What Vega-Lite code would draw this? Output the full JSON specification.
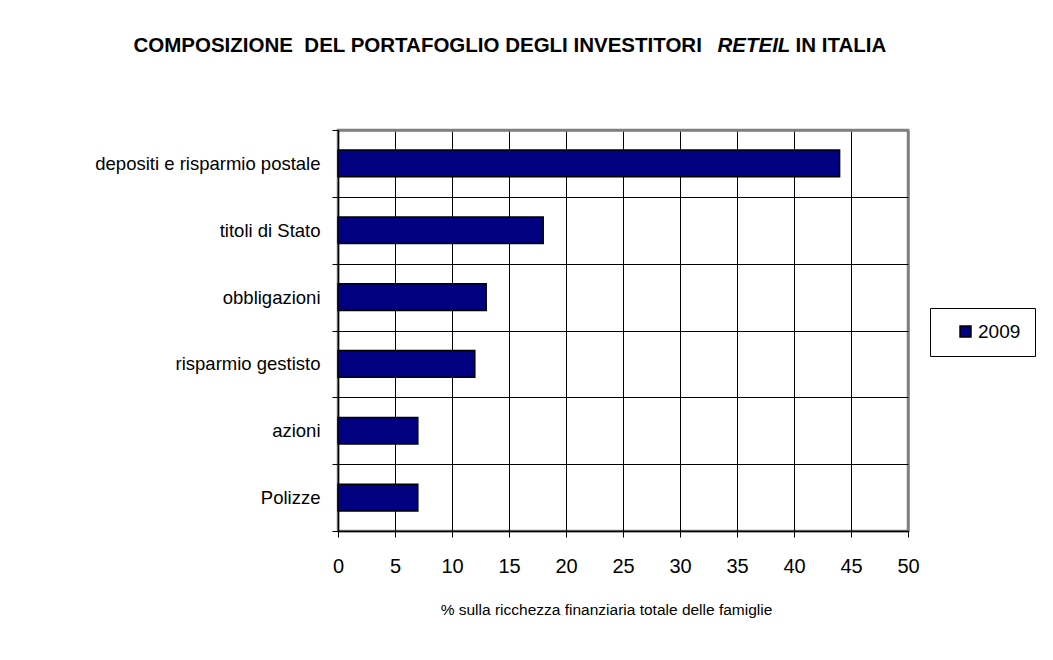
{
  "$schema": "https://vega.github.io/schema/vega-lite/v6.json",
  "width": 570,
  "height": 401,
  "autosize": {"type": "none"},
  "padding": {"left": 338, "top": 130, "right": 145, "bottom": 129},
  "background": "white",
  "data": {
    "values": [
      {"categoria": "depositi e risparmio postale", "valore": 44, "anno": "2009"},
      {"categoria": "titoli di Stato", "valore": 18, "anno": "2009"},
      {"categoria": "obbligazioni", "valore": 13, "anno": "2009"},
      {"categoria": "risparmio gestisto", "valore": 12, "anno": "2009"},
      {"categoria": "azioni", "valore": 7, "anno": "2009"},
      {"categoria": "Polizze", "valore": 7, "anno": "2009"}
    ]
  },
  "layer": [
    {
      "mark": {"type": "bar", "height": {"band": 0.4}, "stroke": "black", "strokeWidth": 1.5},
      "encoding": {
        "y": {
          "field": "categoria",
          "type": "nominal",
          "sort": null,
          "scale": {"paddingInner": 0, "paddingOuter": 0},
          "axis": {
            "orient": "left",
            "title": "COMPOSIZIONE\u00a0\u00a0DEL PORTAFOGLIO DEGLI INVESTITORI",
            "titleFont": "Liberation Sans",
            "titleFontSize": 20.5,
            "titleFontWeight": "bold",
            "titleColor": "black",
            "titleAngle": 0,
            "titleAlign": "left",
            "titleBaseline": "alphabetic",
            "titleX": -205,
            "titleY": -79,
            "tickBand": "extent",
            "grid": true,
            "gridColor": {"condition": {"test": "datum.index === -1", "value": "#808080"}, "value": "black"},
            "gridWidth": {"condition": {"test": "datum.index === -1", "value": 2.5}, "value": 1},
            "gridOpacity": 1,
            "domainColor": "black",
            "domainWidth": 1.5,
            "tickColor": "black",
            "tickSize": 6,
            "labelPadding": 12,
            "labelFont": "Liberation Sans",
            "labelFontSize": 18.5,
            "labelColor": "black",
            "labelLimit": 400
          }
        },
        "x": {
          "field": "valore",
          "type": "quantitative",
          "scale": {"domain": [0, 50], "nice": false},
          "axis": {
            "orient": "bottom",
            "values": [0, 5, 10, 15, 20, 25, 30, 35, 40, 45, 50],
            "title": "% sulla ricchezza finanziaria totale delle famiglie",
            "titleFont": "Liberation Sans",
            "titleFontSize": 15.5,
            "titleFontWeight": "normal",
            "titleColor": "black",
            "titlePadding": 26,
            "titleX": 268,
            "grid": true,
            "gridColor": {"condition": {"test": "datum.value === 50", "value": "#808080"}, "value": "black"},
            "gridWidth": {"condition": {"test": "datum.value === 50", "value": 2.5}, "value": 1},
            "gridOpacity": 1,
            "domainColor": "black",
            "domainWidth": 1.5,
            "tickColor": "black",
            "tickSize": 6,
            "labelPadding": 19,
            "labelFlush": false,
            "labelFont": "Liberation Sans",
            "labelFontSize": 20,
            "labelColor": "black"
          }
        },
        "color": {
          "field": "anno",
          "type": "nominal",
          "scale": {"range": ["#000080"]},
          "legend": {
            "title": null,
            "orient": "none",
            "legendX": 592,
            "legendY": 178,
            "strokeColor": "black",
            "fillColor": "white",
            "padding": 14,
            "symbolType": "square",
            "symbolSize": 120,
            "symbolStrokeColor": "black",
            "symbolStrokeWidth": 1.5,
            "symbolOffset": 12,
            "labelFont": "Liberation Sans",
            "labelFontSize": 19,
            "labelColor": "black",
            "labelOffset": 3
          }
        }
      }
    },
    {
      "mark": {"type": "bar", "height": {"band": 0.4}, "opacity": 0},
      "encoding": {
        "y": {
          "field": "categoria",
          "type": "nominal",
          "sort": null,
          "axis": {
            "orient": "right",
            "title": "IN ITALIA",
            "titleFont": "Liberation Sans",
            "titleFontSize": 20.5,
            "titleFontWeight": "bold",
            "titleColor": "black",
            "titleAngle": 0,
            "titleAlign": "left",
            "titleBaseline": "alphabetic",
            "titleX": -113,
            "titleY": -79,
            "labels": false,
            "ticks": false,
            "domain": false,
            "grid": false
          }
        },
        "x": {
          "field": "valore",
          "type": "quantitative",
          "axis": {
            "orient": "top",
            "title": "RETEIL",
            "titleFont": "Liberation Sans",
            "titleFontSize": 20.5,
            "titleFontWeight": "bold",
            "titleFontStyle": "italic",
            "titleColor": "black",
            "titleAlign": "left",
            "titleAnchor": null,
            "titleBaseline": "alphabetic",
            "titleX": 379,
            "titleY": -79,
            "labels": false,
            "ticks": false,
            "domain": false,
            "grid": false
          }
        }
      }
    }
  ],
  "resolve": {"axis": {"x": "independent", "y": "independent"}},
  "config": {
    "view": {"stroke": "#808080", "strokeWidth": 2.5}
  }
}
